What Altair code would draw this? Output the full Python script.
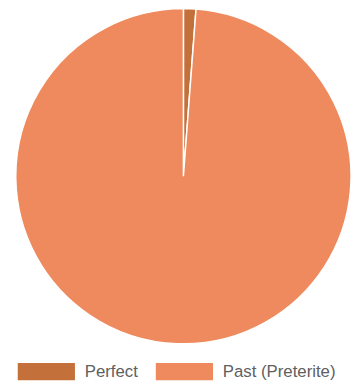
import altair as alt
import pandas as pd

categories = ["Perfect", "Past (Preterite)"]
values = [1.2, 98.8]
colors = ["#c4703a", "#ee8a5d"]
order = [0, 1]

df = pd.DataFrame({"tense": categories, "value": values, "order": order})

rect = "M-1,-0.3L1,-0.3L1,0.3L-1,0.3Z"

chart = alt.Chart(df).mark_arc(stroke="white", strokeWidth=1.5).encode(
    theta=alt.Theta("value:Q", stack=True),
    order=alt.Order("order:Q"),
    color=alt.Color(
        "tense:N",
        sort=categories,
        scale=alt.Scale(domain=categories, range=colors),
        legend=alt.Legend(
            title=None,
            orient="none",
            direction="horizontal",
            legendX=2,
            legendY=339,
            symbolType=rect,
            symbolSize=3364,
            symbolStrokeWidth=0,
            symbolOpacity=1,
            labelFont="Liberation Sans",
            labelFontSize=17,
            labelColor="#606060",
            labelOffset=10,
            columnPadding=18,
        ),
    ),
).properties(
    width=340,
    height=340,
    padding={"left": 13, "top": 3, "right": 0, "bottom": 0},
).configure_view(stroke=None)

chart.save("out.html", embed_options={"renderer": "svg", "actions": False})
